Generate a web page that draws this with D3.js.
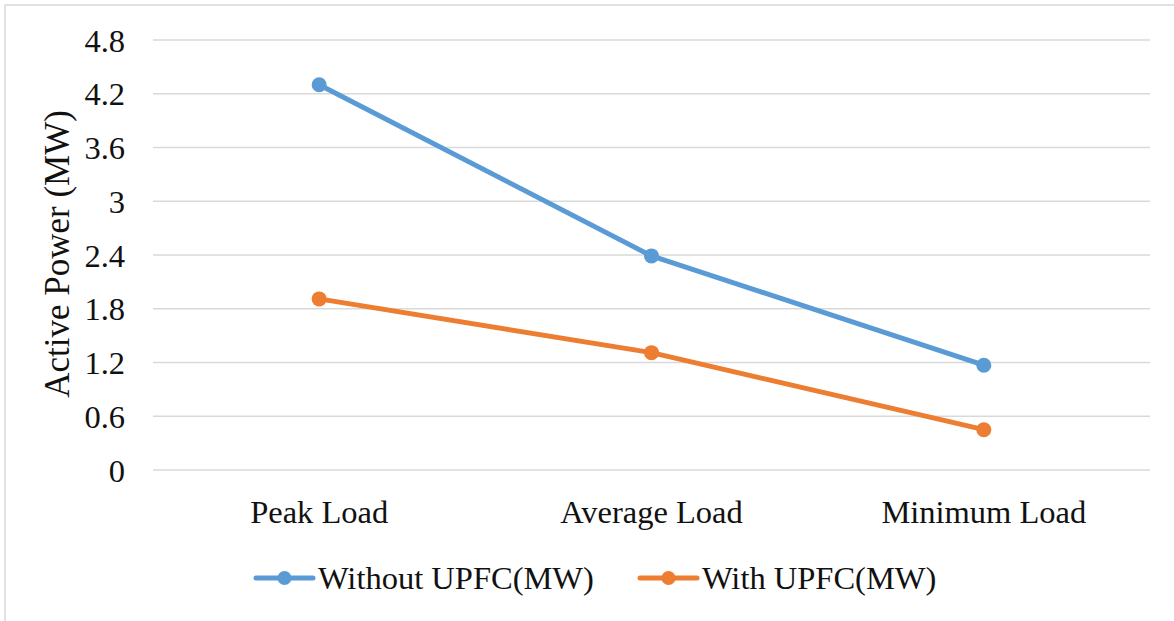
<!DOCTYPE html>
<html>
<head>
<meta charset="utf-8">
<script src="https://cdn.jsdelivr.net/npm/d3@7"></script>
<style>
  html, body { margin: 0; padding: 0; background: #fff; }
  svg { display: block; }
  svg text { font-family: "Liberation Serif", "DejaVu Serif", serif !important; fill: #111; }
</style>
</head>
<body>
<svg id="chart" width="1174" height="621"></svg>
<script>
// Load scenarios on the x axis
const categories = ["Peak Load", "Average Load", "Minimum Load"];
// Active power per scenario, MW
const withoutUPFC = [4.30, 2.39, 1.17];
const withUPFC = [1.91, 1.31, 0.45];
// Y axis ticks
const yTicks = [0, 0.6, 1.2, 1.8, 2.4, 3, 3.6, 4.2, 4.8];
const seriesNames = ["Without UPFC(MW)", "With UPFC(MW)"];

const series = [
  { name: seriesNames[0], values: withoutUPFC, color: "#5B9BD5" },
  { name: seriesNames[1], values: withUPFC, color: "#ED7D31" }
];

const FONT = "'Liberation Serif', 'DejaVu Serif', serif";

const svg = d3.select("#chart");
const W = 1174, H = 621;
const plot = { left: 153, right: 1150, top: 40, bottom: 470 };

// chart area frame
svg.append("rect")
  .attr("x", 5).attr("y", 5)
  .attr("width", W + 10).attr("height", H + 10)
  .attr("fill", "#fff")
  .attr("stroke", "#d9d9d9").attr("stroke-width", 1.5);

const x = d3.scaleBand().domain(categories).range([plot.left, plot.right]);
const y = d3.scaleLinear().domain([0, 4.8]).range([plot.bottom, plot.top]);

// horizontal gridlines
svg.append("g")
  .selectAll("line")
  .data(yTicks)
  .join("line")
  .attr("x1", plot.left).attr("x2", plot.right)
  .attr("y1", d => y(d)).attr("y2", d => y(d))
  .attr("stroke", "#d9d9d9").attr("stroke-width", 1.5);

// y axis labels
const yAxis = d3.axisLeft(y).tickValues(yTicks).tickFormat(d => String(d)).tickSize(0).tickPadding(0);
const gy = svg.append("g").attr("transform", `translate(125,0)`).call(yAxis)
  .attr("font-family", null).attr("font-size", null);
gy.select(".domain").remove();
gy.selectAll("text")
  .style("font-family", FONT)
  .style("font-size", "32.5px")
  .attr("fill", "#111")
  .attr("dy", "0.34em");

// x axis labels
const xAxis = d3.axisBottom(x).tickSize(0).tickPadding(0);
const gx = svg.append("g").attr("transform", `translate(0,${plot.bottom})`).call(xAxis)
  .attr("font-family", null).attr("font-size", null);
gx.select(".domain").remove();
gx.selectAll("text")
  .style("font-family", FONT)
  .style("font-size", "32.5px")
  .attr("fill", "#111")
  .attr("dy", null)
  .attr("y", 53);

// y axis title
svg.append("text")
  .attr("transform", "translate(69,254) rotate(-90)")
  .attr("text-anchor", "middle")
  .style("font-family", FONT)
  .style("font-size", "35px")
  .text("Active Power (MW)");

const cx = d => x(d) + x.bandwidth() / 2;
const line = d3.line().x(d => cx(d.cat)).y(d => y(d.v));

series.forEach(s => {
  const pts = categories.map((c, i) => ({ cat: c, v: s.values[i] }));
  svg.append("path")
    .datum(pts)
    .attr("d", line)
    .attr("fill", "none")
    .attr("stroke", s.color)
    .attr("stroke-width", 5)
    .attr("stroke-linejoin", "round")
    .attr("stroke-linecap", "round");
  svg.append("g")
    .selectAll("circle")
    .data(pts)
    .join("circle")
    .attr("cx", d => cx(d.cat))
    .attr("cy", d => y(d.v))
    .attr("r", 7.5)
    .attr("fill", s.color);
});

// legend
const legendX = [256, 640];
const legendY = 578;
series.forEach((s, i) => {
  const g = svg.append("g").attr("transform", `translate(${legendX[i]},${legendY})`);
  g.append("line")
    .attr("x1", 0).attr("x2", 57)
    .attr("stroke", s.color).attr("stroke-width", 5)
    .attr("stroke-linecap", "round");
  g.append("circle").attr("cx", 28.5).attr("r", 7).attr("fill", s.color);
  g.append("text")
    .attr("x", 62)
    .attr("dy", "0.34em")
    .style("font-family", FONT)
    .style("font-size", "32.5px")
    .text(s.name);
});
</script>
</body>
</html>
